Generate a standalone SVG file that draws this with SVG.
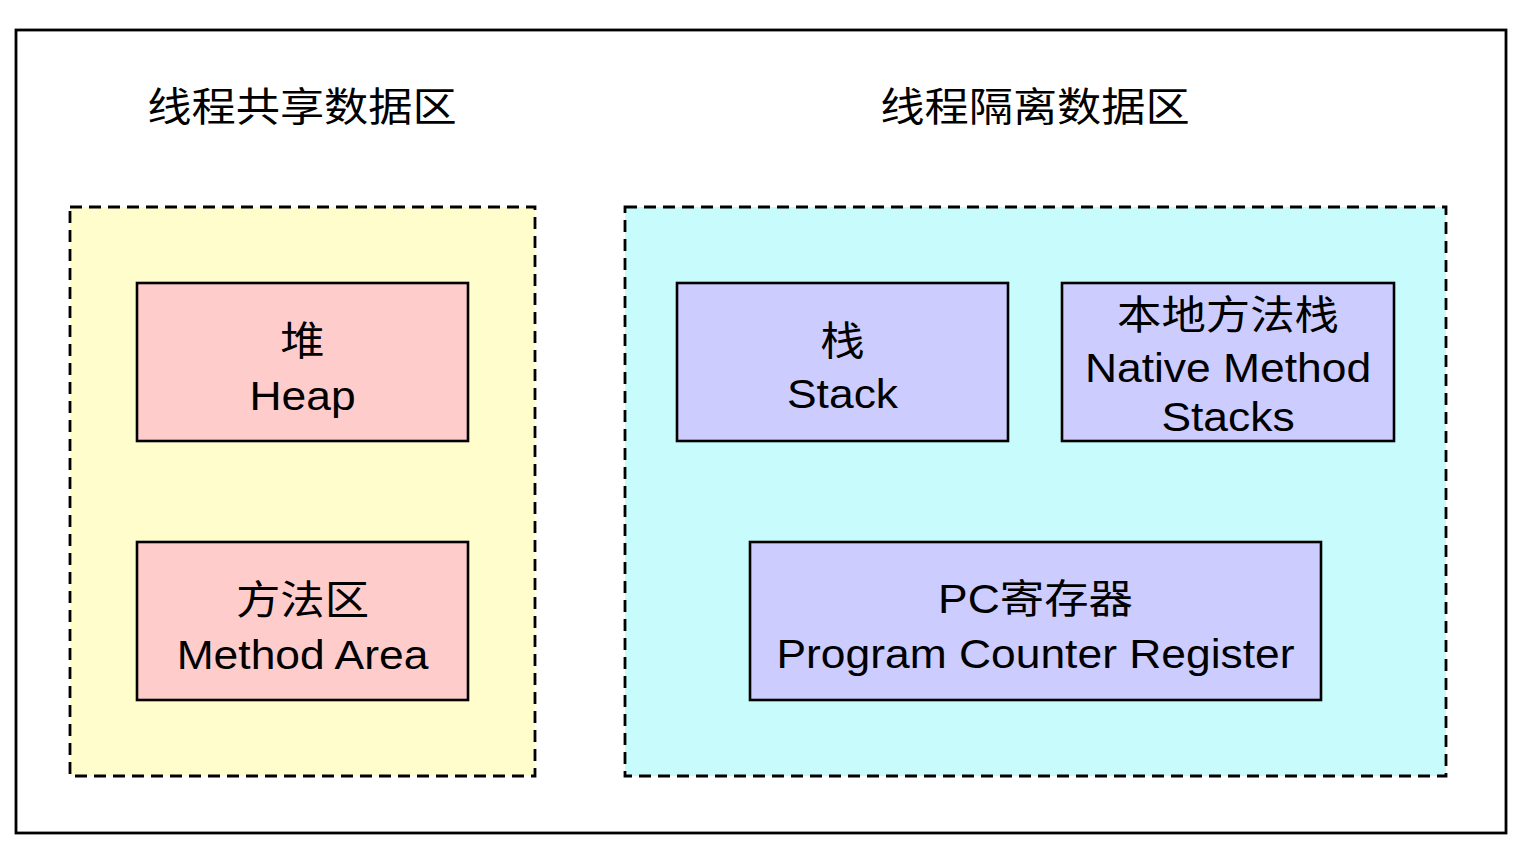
<svg xmlns="http://www.w3.org/2000/svg" width="1522" height="863" viewBox="0 0 1522 863">
<style>
text{font-family:"Liberation Sans","Noto Sans CJK SC",sans-serif;fill:#000;text-anchor:middle}
.t{font-size:39.5px}
.b{font-size:40px}
.area{stroke:#000;stroke-width:2.8;stroke-dasharray:12 7}
.box{stroke:#000;stroke-width:2.6}
</style>
<rect width="1522" height="863" fill="#fff"/>
<rect x="16" y="30" width="1490" height="803" fill="#fff" stroke="#000" stroke-width="2.8"/>
<g id="title-shared"><g transform="translate(302,121) scale(1.12,1)"><text class="t" x="0" y="0">线程共享数据区</text></g></g>
<g id="title-isolated"><g transform="translate(1035,121) scale(1.12,1)"><text class="t" x="0" y="0">线程隔离数据区</text></g></g>
<g id="shared-area"><rect class="area" x="70" y="207" width="465" height="569" fill="#FFFDCC"/></g>
<g id="isolated-area"><rect class="area" x="625" y="207" width="821" height="569" fill="#C8FCFC"/></g>
<g id="heap"><rect class="box" x="137" y="283" width="331" height="158" fill="#FFCCCC"/>
<g transform="translate(302.5,0) scale(1.11,1)"><text class="b" x="0" y="355">堆</text><text class="b" x="0" y="410">Heap</text></g></g>
<g id="method-area"><rect class="box" x="137" y="542" width="331" height="158" fill="#FFCCCC"/>
<g transform="translate(302.5,0) scale(1.11,1)"><text class="b" x="0" y="614">方法区</text><text class="b" x="0" y="669">Method Area</text></g></g>
<g id="stack"><rect class="box" x="677" y="283" width="331" height="158" fill="#CCCCFF"/>
<g transform="translate(842.5,0) scale(1.11,1)"><text class="b" x="0" y="355">栈</text><text class="b" x="0" y="408">Stack</text></g></g>
<g id="native-stack"><rect class="box" x="1062" y="283" width="332" height="158" fill="#CCCCFF"/>
<g transform="translate(1228,0) scale(1.11,1)"><text class="b" x="0" y="329">本地方法栈</text><text class="b" x="0" y="382">Native Method</text><text class="b" x="0" y="431">Stacks</text></g></g>
<g id="pc-register"><rect class="box" x="750" y="542" width="571" height="158" fill="#CCCCFF"/>
<g transform="translate(1035.5,0) scale(1.11,1)"><text class="b" x="0" y="613">PC寄存器</text><text class="b" x="0" y="668">Program Counter Register</text></g></g>
<g id="connectors"></g>
</svg>
